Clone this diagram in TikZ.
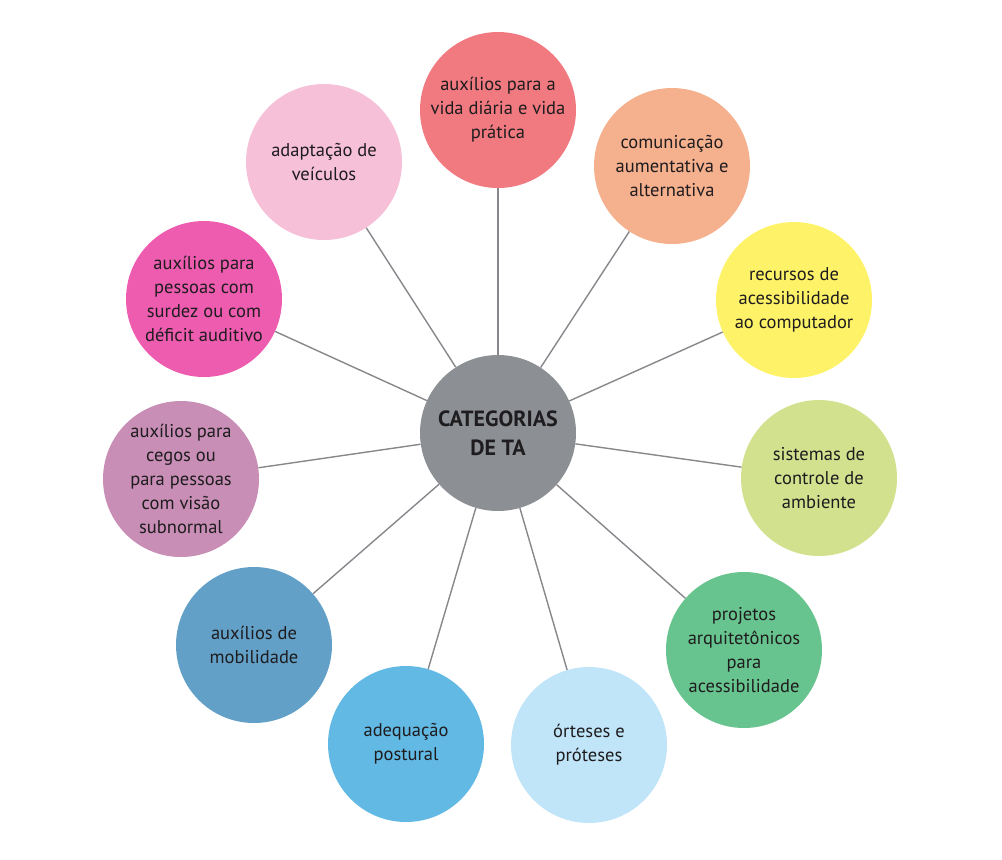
\documentclass[tikz,border=0pt]{standalone}
\usepackage{fontspec}
\setmainfont{PT Sans}
\usepackage{tikz}

\definecolor{catgray}{RGB}{140,143,148}
\definecolor{linegray}{RGB}{135,135,140}
\definecolor{textdark}{RGB}{30,28,30}
\definecolor{vdcol}{RGB}{240,122,128}
\definecolor{cacol}{RGB}{245,176,142}
\definecolor{rccol}{RGB}{254,243,104}
\definecolor{sccol}{RGB}{210,225,142}
\definecolor{pacol}{RGB}{104,196,142}
\definecolor{opcol}{RGB}{192,228,248}
\definecolor{apcol}{RGB}{98,186,228}
\definecolor{mbcol}{RGB}{98,160,200}
\definecolor{cgcol}{RGB}{200,142,182}
\definecolor{sdcol}{RGB}{238,92,176}
\definecolor{avcol}{RGB}{246,192,216}

\begin{document}
\begin{tikzpicture}
[x=1pt,y=-1pt,every edge/.style={draw=linegray,line width=1.4pt}]
  \tikzstyle{cat}=[circle,minimum size=156pt,inner sep=0pt,align=center,text=textdark,font=\fontsize{18.5}{24}\selectfont]
  \useasboundingbox (0,0) rectangle (1002,860);

  \node[cat,fill=catgray,font=\bfseries\fontsize{22}{29}\selectfont] (TA) at (498,433) {CATEGORIAS\\DE TA};
  \node[cat,fill=vdcol] (VD) at (498,110) {auxílios para a\\vida diária e vida\\prática};
  \node[cat,fill=cacol] (CA) at (672,166) {comunicação\\aumentativa e\\alternativa};
  \node[cat,fill=rccol] (RC) at (794,300) {recursos de\\acessibilidade\\ao computador};
  \node[cat,fill=sccol] (SC) at (819,478) {sistemas de\\controle de\\ambiente};
  \node[cat,fill=pacol] (PA) at (744,650) {projetos\\arquitetônicos\\para\\acessibilidade};
  \node[cat,fill=opcol] (OP) at (589,745) {órteses e\\próteses};
  \node[cat,fill=apcol] (AP) at (406,744) {adequação\\postural};
  \node[cat,fill=mbcol] (MB) at (254,645) {auxílios de\\mobilidade};
  \node[cat,fill=cgcol] (CG) at (181,479) {auxílios para\\cegos ou\\para pessoas\\com visão\\subnormal};
  \node[cat,fill=sdcol] (SD) at (204,299) {auxílios para\\pessoas com\\surdez ou com\\déficit auditivo};
  \node[cat,fill=avcol] (AV) at (324,162) {adaptação de\\veículos};

  \path (TA) edge (VD)
             edge (CA)
             edge (RC)
             edge (SC)
             edge (PA)
             edge (OP)
             edge (AP)
             edge (MB)
             edge (CG)
             edge (SD)
             edge (AV);
\end{tikzpicture}
\end{document}
